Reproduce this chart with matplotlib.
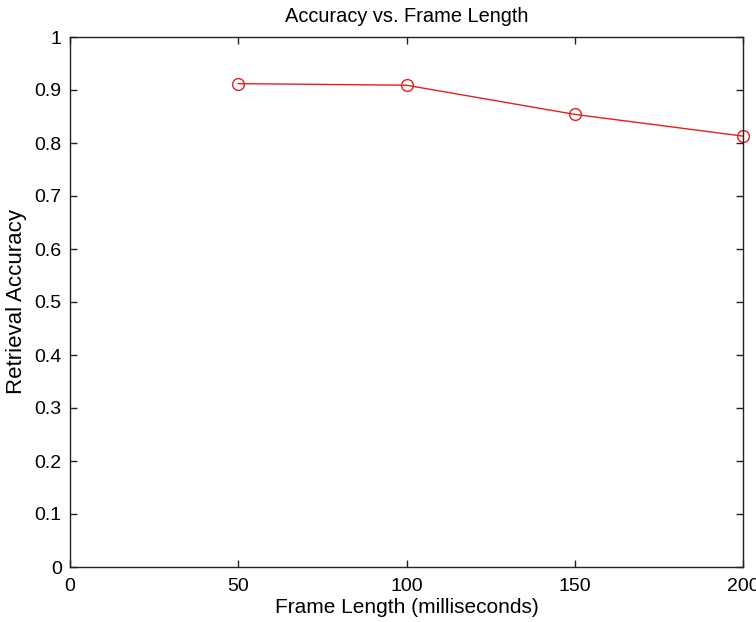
import matplotlib
matplotlib.use('Agg')
import matplotlib.pyplot as plt

frame_length = [50, 100, 150, 200]
accuracy = [0.912, 0.909, 0.854, 0.813]
y_ticks = [0, 0.1, 0.2, 0.3, 0.4, 0.5, 0.6, 0.7, 0.8, 0.9, 1]
y_labels = ['0', '0.1', '0.2', '0.3', '0.4', '0.5', '0.6', '0.7', '0.8', '0.9', '1']

plt.rcParams['font.family'] = ['Liberation Sans', 'DejaVu Sans']

fig = plt.figure(figsize=(7.56, 6.22), dpi=100)
ax = fig.add_axes([70 / 756, 55 / 622, 673 / 756, 530 / 622])

ax.plot(frame_length, accuracy, color='#e02020', linewidth=1.0, marker='o',
        markersize=8.5, markerfacecolor='none', markeredgecolor='#e02020',
        markeredgewidth=1.0, clip_on=False)

ax.set_xlim(0, 200)
ax.set_ylim(0, 1)
ax.set_xticks([0, 50, 100, 150, 200])
ax.set_yticks(y_ticks)
ax.set_yticklabels(y_labels)
ax.tick_params(direction='in', length=5, width=1, labelsize=14,
               top=True, right=True, color='#222222')
ax.tick_params(axis='x', pad=8)
ax.tick_params(axis='y', pad=6)
for s in ax.spines.values():
    s.set_linewidth(1.0)
    s.set_color('#222222')

ax.set_title('Accuracy vs. Frame Length', fontsize=14.4, pad=11)
ax.set_xlabel('Frame Length (milliseconds)', fontsize=15, labelpad=2)
ax.set_ylabel('Retrieval Accuracy', fontsize=16, labelpad=5)

fig.savefig('out.png', dpi=100)
